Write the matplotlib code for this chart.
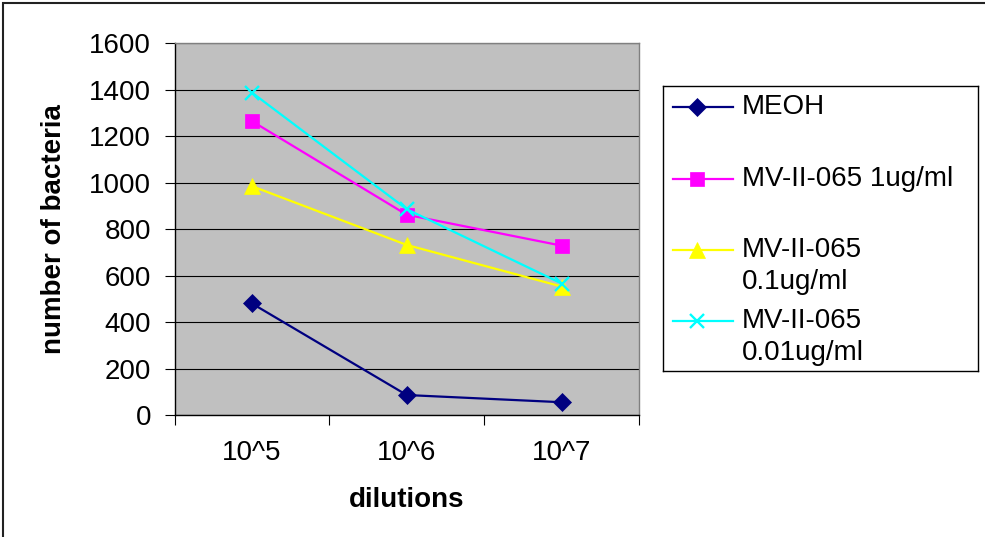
import matplotlib.pyplot as plt
from matplotlib.lines import Line2D
from matplotlib.patches import Rectangle

plt.rcParams["font.family"] = ["Liberation Sans", "DejaVu Sans"]

dilutions = ["10^5", "10^6", "10^7"]
meoh = [480, 86, 55]
mv_1 = [1265, 862, 729]
mv_01 = [985, 732, 553]
mv_001 = [1388, 886, 566]

series = [
    ("MEOH", meoh, "#000080", "D", 9),
    ("MV-II-065 1ug/ml", mv_1, "#FF00FF", "s", 9.5),
    ("MV-II-065\n0.1ug/ml", mv_01, "#FFFF00", "^", 11),
    ("MV-II-065\n0.01ug/ml", mv_001, "#00FFFF", "x", 10),
]

W, H = 985, 537
fig = plt.figure(figsize=(W / 100, H / 100), dpi=100)

# outer frame (visible on top and left only)
fig.add_artist(Rectangle((2.5 / W, -0.1), 1.2, 1.1 - 2.5 / H, transform=fig.transFigure,
                         fill=False, edgecolor="#222222", linewidth=1.5))

ax = fig.add_axes([174.5 / W, 1 - 415 / H, (639 - 174.5) / W, (415 - 43.3) / H])
ax.set_facecolor("#C0C0C0")
x = list(range(len(dilutions)))
for label, vals, color, marker, ms in series:
    ax.plot(x, vals, color=color, linewidth=1.6, marker=marker, markersize=ms,
            markeredgewidth=1.7 if marker == "x" else 0.5, markeredgecolor=color,
            zorder=3)

ax.set_xlim(-0.5, len(dilutions) - 0.5)
ax.set_ylim(0, 1600)
ax.set_yticks(range(0, 1601, 200))
ax.yaxis.grid(True, color="black", linewidth=0.8)
ax.set_axisbelow(True)
ax.tick_params(axis="y", direction="out", length=7, width=0.8, pad=10, labelsize=20)

ax.set_xticks([i - 0.5 for i in range(len(dilutions) + 1)])
ax.set_xticklabels([])
ax.set_xticks(x, minor=True)
ax.set_xticklabels(dilutions, minor=True)
ax.tick_params(axis="x", which="major", direction="out", length=7, width=0.8)
ax.tick_params(axis="x", which="minor", length=0, pad=18, labelsize=20)

ax.spines["top"].set_color("#808080")
ax.spines["right"].set_color("#808080")
ax.spines["left"].set_color("black")
ax.spines["bottom"].set_color("black")
for s in ax.spines.values():
    s.set_linewidth(1.0)

ax.set_xlabel("dilutions", fontsize=20, fontweight="bold", labelpad=15)
ax.set_ylabel("number of bacteria", fontsize=20, fontweight="bold", labelpad=16)

# legend drawn in its own pixel-scaled axes
lx0, ly0, lx1, ly1 = 663, 86, 978, 371
lax = fig.add_axes([lx0 / W, 1 - ly1 / H, (lx1 - lx0) / W, (ly1 - ly0) / H])
lax.set_xlim(0, lx1 - lx0)
lax.set_ylim(ly1 - ly0, 0)
lax.set_xticks([])
lax.set_yticks([])
for s in lax.spines.values():
    s.set_color("black")
    s.set_linewidth(1.0)

rows = [21, 93, 164, 235]
line_gap = 32
for (label, vals, color, marker, ms), ry in zip(series, rows):
    lax.add_line(Line2D([10, 70], [ry, ry], color=color, linewidth=1.6))
    lax.add_line(Line2D([34], [ry], color=color, marker=marker, markersize=ms,
                        markeredgewidth=1.7 if marker == "x" else 0.5,
                        markeredgecolor=color))
    for k, part in enumerate(label.split("\n")):
        lax.text(79, ry + k * line_gap, part, fontsize=20, va="center", ha="left")

fig.savefig("out.png", dpi=100, facecolor="white")
